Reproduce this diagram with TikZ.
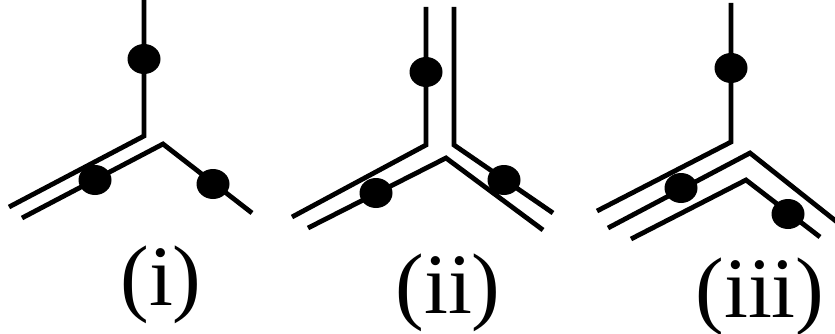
\documentclass[tikz,border=0pt]{standalone}
\usepackage{fontspec}
\setmainfont{Liberation Serif}
\usetikzlibrary{shapes.geometric}

\begin{document}
\begin{tikzpicture}[x=1pt, y=-1pt, line width=4.8pt,
  dot/.style={fill=black, ellipse, minimum width=33pt, minimum height=30pt, inner sep=0pt},
  tag/.style={anchor=base, inner sep=0pt, font=\fontsize{86}{86}\selectfont}]
  \useasboundingbox (0,0) rectangle (835,334);
  % (i)
  \coordinate (iTop) at (144,0);
  \coordinate (iJoin) at (144,136);
  \coordinate (iEndA) at (9,207);
  \coordinate (iApex) at (163,144);
  \coordinate (iEndB) at (22,218);
  \coordinate (iEndC) at (252,213);
  \path[draw] (iTop) -- (iJoin) -- (iEndA);
  \path[draw] (iEndB) -- (iApex) -- (iEndC);
  % (ii)
  \coordinate (iiTopL) at (426,7);
  \coordinate (iiJoinL) at (426,145);
  \coordinate (iiEndA) at (292,217);
  \coordinate (iiTopR) at (454,7);
  \coordinate (iiJoinR) at (454,145);
  \coordinate (iiEndD) at (553,213);
  \coordinate (iiApex) at (446,158);
  \coordinate (iiEndB) at (308,228);
  \coordinate (iiEndC) at (543,230);
  \path[draw] (iiTopL) -- (iiJoinL) -- (iiEndA);
  \path[draw] (iiTopR) -- (iiJoinR) -- (iiEndD);
  \path[draw] (iiEndB) -- (iiApex) -- (iiEndC);
  % (iii)
  \coordinate (iiiTop) at (731,3);
  \coordinate (iiiJoin) at (731,142);
  \coordinate (iiiEndA) at (597,211);
  \coordinate (iiiApexA) at (750,153);
  \coordinate (iiiEndB) at (608,228);
  \coordinate (iiiEndC) at (837,222);
  \coordinate (iiiApexB) at (746,180);
  \coordinate (iiiEndD) at (631,239);
  \coordinate (iiiEndE) at (820,237);
  \path[draw] (iiiTop) -- (iiiJoin) -- (iiiEndA);
  \path[draw] (iiiEndB) -- (iiiApexA) -- (iiiEndC);
  \path[draw] (iiiEndD) -- (iiiApexB) -- (iiiEndE);
  % dots
  \foreach \name/\x/\y in {ia/144/59, ib/95/180, ic/213/184,
    iia/426/72, iib/376/193, iic/504/180,
    iiia/731/68, iiib/681/188, iiic/788/214}
  {
    \node[dot] (dot\name) at (\x,\y) {};
  }
  % labels
  \node[tag] (tagi) at (161,305) {(i)};
  \node[tag] (tagii) at (448,313) {(ii)};
  \node[tag] (tagiii) at (760,317) {(iii)};
\end{tikzpicture}
\end{document}
